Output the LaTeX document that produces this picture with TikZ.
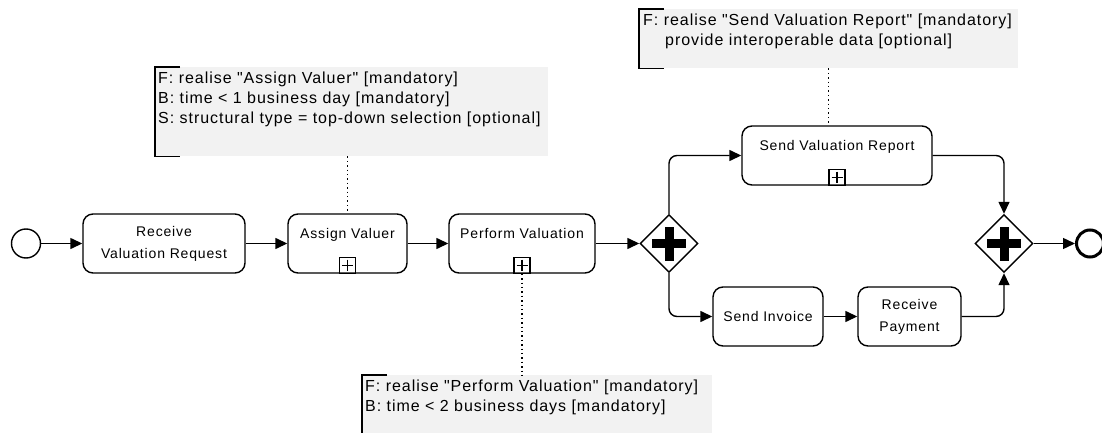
\documentclass[tikz,border=0pt]{standalone}
\usepackage{fontspec}
\setmainfont{Liberation Sans}
\newfontfamily\taskfont[LetterSpace=6]{Liberation Sans}
\newfontfamily\notefont[LetterSpace=6]{Liberation Sans}
\usepackage{tikz}
\usetikzlibrary{arrows.meta,shapes.geometric,calc}
\definecolor{notegray}{RGB}{242,242,242}

\begin{document}
\begin{tikzpicture}[x=1pt, y=-1pt,
	flow/.style={-{Triangle[length=12pt,width=11pt]}, line width=1.4pt, rounded corners=8pt},
	task/.style={draw, line width=1.4pt, rounded corners=10pt, inner sep=0pt, minimum height=59pt, align=center, font=\taskfont\fontsize{14}{22}\selectfont},
	subproc/.style={task, text height=10pt, text depth=19.6pt},
	marker/.style={draw, line width=1.1pt, minimum size=16pt, inner sep=0pt, anchor=south,
		path picture={\draw[line width=1.1pt] ([yshift=-2.5pt]path picture bounding box.north) -- ([yshift=2.5pt]path picture bounding box.south) ([xshift=2.5pt]path picture bounding box.west) -- ([xshift=-2.5pt]path picture bounding box.east);}},
	gate/.style={draw, diamond, line width=1.4pt, minimum width=58pt, minimum height=58pt, inner sep=0pt,
		path picture={\draw[line width=9pt] ([xshift=-17pt]path picture bounding box.center) -- ([xshift=17pt]path picture bounding box.center) ([yshift=-17pt]path picture bounding box.center) -- ([yshift=17pt]path picture bounding box.center);}},
	note/.style={fill=notegray, inner sep=0pt, anchor=north west},
	notetext/.style={anchor=north west, align=left, inner sep=0pt, font=\notefont\fontsize{16}{20}\selectfont},
	bracket/.style={line width=1.3pt},
	assoc/.style={line width=1.4pt, dash pattern=on 1.4pt off 3pt}]
\useasboundingbox (0,0) rectangle (1102,433);

\node[draw, circle, line width=1.4pt, minimum size=29pt, inner sep=0pt] (start) at (26,243.5) {};
\node[task, minimum width=162pt] (recv) at (164,243.5) {Receive\\Valuation Request};
\node[subproc, minimum width=119pt] (assign) at (347.5,243.5) {Assign Valuer};
\node[subproc, minimum width=146pt] (perform) at (522,243.5) {Perform Valuation};
\node[gate] (fork) at (669,243.5) {};
\node[subproc, minimum width=190pt] (sendrep) at (837,155.5) {Send Valuation Report};
\node[task, minimum width=110pt] (invoice) at (768,316.5) {Send Invoice};
\node[task, minimum width=103pt] (payment) at (909.5,316.5) {Receive\\Payment};
\node[gate] (join) at (1004,243.5) {};
\node[draw, circle, line width=3pt, minimum size=27pt, inner sep=0pt] (end) at (1090,243.5) {};

\node[marker] (assignplus) at (assign.south) {};
\node[marker] (performplus) at (perform.south) {};
\node[marker] (sendrepplus) at (sendrep.south) {};

\path[flow]
(start) edge (recv)
(recv) edge (assign)
(assign) edge (perform)
(perform) edge (fork)
(invoice) edge (payment)
(join) edge (end);
\draw[flow] (fork.north) |- (sendrep.west);
\draw[flow] (sendrep.east) -| (join.north);
\draw[flow] (fork.south) |- (invoice.west);
\draw[flow] (payment.east) -| (join.south);

\node[note, minimum width=393pt, minimum height=89pt] (noteassign) at (155,67) {};
\node[notetext] (noteassigntext) at (158,72) {F: realise "Assign Valuer" [mandatory]\\B: time < 1 business day [mandatory]\\S: structural type = top-down selection [optional]};
\node[note, minimum width=379pt, minimum height=59pt] (noterep) at (639,9) {};
\node[notetext] (notereptext) at (643,14) {F: realise "Send Valuation Report" [mandatory]\\\hspace*{22pt}provide interoperable data [optional]};
\node[note, minimum width=350pt, minimum height=59pt] (noteperform) at (362,375) {};
\node[notetext] (noteperformtext) at (365,380) {F: realise "Perform Valuation" [mandatory]\\B: time < 2 business days [mandatory]};

\foreach \n in {noteassign,noterep,noteperform}
	\draw[bracket] ([xshift=25pt]\n.north west) -- (\n.north west) -- (\n.south west) -- ([xshift=25pt]\n.south west);

\draw[assoc] (assign.north |- noteassign.south) -- (assign.north);
\draw[assoc] (noterep.south) -- (noterep.south |- sendrep.north);
\draw[assoc] (performplus.south) -- (performplus.south |- noteperform.north);
\end{tikzpicture}
\end{document}
